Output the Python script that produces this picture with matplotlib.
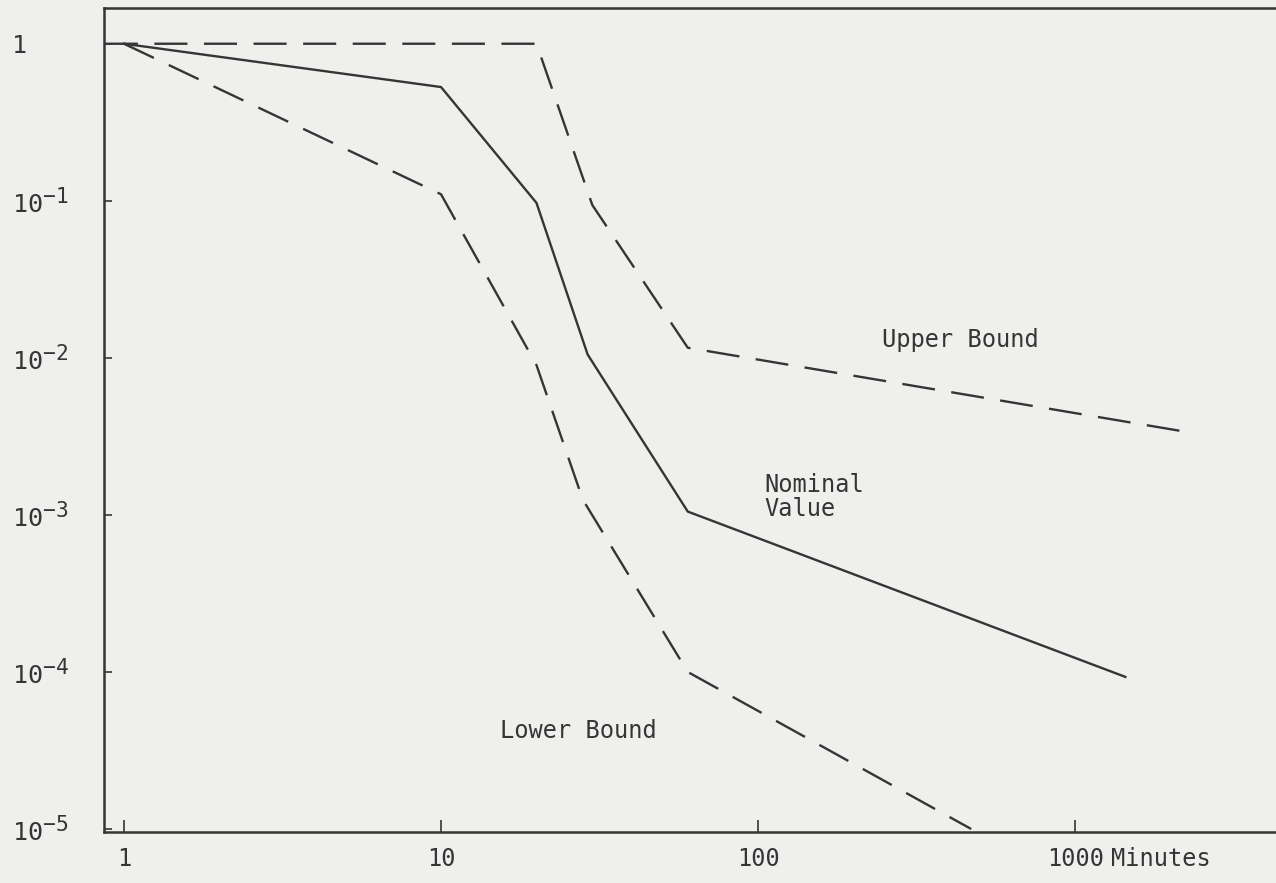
import matplotlib
matplotlib.use("Agg")
import matplotlib.pyplot as plt
from matplotlib.ticker import FixedLocator, NullLocator

try:
    import matplotlib._mathtext as _mt
    _mt.SHRINK_FACTOR = 0.85
except Exception:
    pass

# ---- data ----
upper_x = [0.87, 1, 20, 30, 60, 2400]
upper_y = [1.0, 1.0, 1.0, 0.094, 0.0116, 0.0033]

nominal_x = [1, 10, 20, 29, 60, 1440]
nominal_y = [1.0, 0.53, 0.097, 0.0105, 0.00105, 9.3e-5]

lower_x = [1, 10, 20, 28, 60, 470]
lower_y = [1.0, 0.11, 0.009, 0.00125, 1.0e-4, 1.0e-5]

xticks = [1, 10, 100, 1000]
xticklabels = ["1", "10", "100", "1000"]
yticks = [1, 1e-1, 1e-2, 1e-3, 1e-4, 1e-5]
yticklabels = ["1", r"$\mathregular{10^{-1}}$", r"$\mathregular{10^{-2}}$",
               r"$\mathregular{10^{-3}}$", r"$\mathregular{10^{-4}}$",
               r"$\mathregular{10^{-5}}$"]

plt.rcParams["font.family"] = ["DejaVu Sans Mono"]
plt.rcParams["mathtext.fontset"] = "custom"
plt.rcParams["mathtext.rm"] = "DejaVu Sans Mono"
plt.rcParams["mathtext.it"] = "DejaVu Sans Mono"

bg = "#efefed"
ink = "#353535"

fig = plt.figure(figsize=(12.76, 8.83), dpi=100, facecolor=bg)
ax = fig.add_axes([0.0815, 0.058, 0.9185, 0.933])
ax.set_facecolor(bg)

ax.set_xscale("log")
ax.set_yscale("log")
ax.set_xlim(0.865, 4300)
ax.set_ylim(9.6e-6, 1.69)

dash = (14, 7)
ax.plot(upper_x, upper_y, color=ink, lw=1.7, dashes=dash)
ax.plot(nominal_x, nominal_y, color=ink, lw=1.7)
ax.plot(lower_x, lower_y, color=ink, lw=1.7, dashes=dash)

ax.xaxis.set_major_locator(FixedLocator(xticks))
ax.xaxis.set_minor_locator(NullLocator())
ax.yaxis.set_major_locator(FixedLocator(yticks))
ax.yaxis.set_minor_locator(NullLocator())
ax.set_xticklabels(xticklabels)
ax.set_yticklabels(yticklabels)

ax.tick_params(axis="x", direction="in", length=9, width=1.2, color=ink,
               labelsize=17, labelcolor=ink, pad=11)
ax.tick_params(axis="y", direction="in", length=6, width=1.2, color=ink,
               labelsize=18, labelcolor=ink, pad=66)
for lab in ax.get_yticklabels():
    lab.set_horizontalalignment("left")

for side in ["top", "bottom", "left"]:
    ax.spines[side].set_color(ink)
    ax.spines[side].set_linewidth(1.8)
ax.spines["right"].set_visible(False)

ax.annotate("Minutes", xy=(1000, 0), xycoords=("data", "axes fraction"),
            xytext=(26, -11), textcoords="offset points",
            ha="left", va="top", fontsize=17, color=ink)

ax.text(246, 0.013, "Upper Bound", fontsize=17, color=ink, ha="left", va="center")
ax.text(105, 1.3e-3, "Nominal\nValue", fontsize=17, color=ink, ha="left",
        va="center", linespacing=1.0)
ax.text(15.4, 4.2e-5, "Lower Bound", fontsize=17, color=ink, ha="left", va="center")

fig.savefig("out.png", dpi=100, facecolor=bg)
